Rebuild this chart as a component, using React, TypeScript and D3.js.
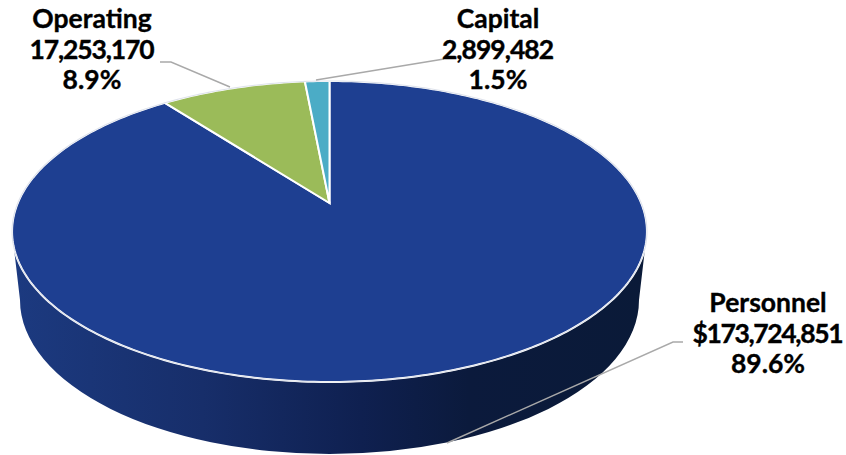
import React from "react";
import * as d3 from "d3";

const categories = ["Personnel", "Operating", "Capital"];
const amounts = [173724851, 17253170, 2899482];
const amountLabels = ["$173,724,851", "17,253,170", "2,899,482"];
const percentLabels = ["89.6%", "8.9%", "1.5%"];
const colors = ["#1e3f91", "#9bbb59", "#4bacc6"];

const W = 846, H = 455;
const cx = 329.5;
// perspective of the disc: far edge, centre and near edge on screen
const farY = 81, midY = 203, nearY = 382, midHalfWidth = 311.7;
const c = (2 * midY - farY - nearY) / (nearY - farY);
const a = nearY * (1 + c) - midY;

function project(angle: number): [number, number] {
  const u = Math.sin(angle), v = -Math.cos(angle);
  const w = 1 + c * v;
  return [cx + (midHalfWidth * u) / w, (a * v + midY) / w];
}

const pieGen = d3.pie<number>().sort(null).value((d) => d);
const arcs = pieGen(amounts);
const lineGen = d3.line<[number, number]>();

function slicePath(start: number, end: number): string {
  const pts: [number, number][] = [[cx, midY]];
  const n = Math.max(4, Math.ceil((end - start) * 60));
  d3.range(n + 1).forEach((i) => pts.push(project(start + ((end - start) * i) / n)));
  return lineGen(pts)! + "Z";
}

const rimPath = (() => {
  const n = 360;
  return lineGen(d3.range(n + 1).map((i) => project((2 * Math.PI * i) / n)))! + "Z";
})();

// side wall: near half of the top rim and near half of the base ellipse
const topCy = (farY + nearY) / 2, topRx = 317.5;
const baseCy = 300, baseRx = 309.5, baseRy = 154;
const wallPath = `M${cx - topRx},${topCy} L${cx - baseRx},${baseCy} A${baseRx},${baseRy} 0 0 0 ${cx + baseRx},${baseCy} L${cx + topRx},${topCy} Z`;

const wallStops: [number, string][] = [
  [0, "#1c3a80"],
  [0.3, "#172e6a"],
  [0.55, "#0f2050"],
  [0.72, "#0b1a3c"],
  [1, "#0a1a38"],
];

const leaders: [number, number][][] = [
  [[683, 342], [673, 342], [447, 443]],
  [[160, 62], [171, 62], [230, 87]],
  [[444, 59], [316, 80]],
];
const labelCenters: [number, number][] = [[768, 312], [92, 28], [498, 28]];
const labelWidths = [151, 125, 112];
const lineStep = 30.5;

export default function App() {
  return (
    <svg width={W} height={H} viewBox={`0 0 ${W} ${H}`} style={{ position: "absolute", left: 0, top: 0, display: "block" }}>
      <defs>
        <linearGradient id="wall" gradientUnits="userSpaceOnUse" x1={cx - topRx} x2={cx + topRx} y1={0} y2={0}>
          {wallStops.map(([o, col]) => <stop key={o} offset={o} stopColor={col} />)}
        </linearGradient>
      </defs>
      <path d={wallPath} fill="url(#wall)" />
      {arcs.map((d, i) => (
        <path key={categories[i]} d={slicePath(d.startAngle, d.endAngle)} fill={colors[i]} stroke="#fff" strokeWidth={2} strokeLinejoin="miter" />
      ))}
      <path d={rimPath} fill="none" stroke="#dfe3ec" strokeWidth={1.1} />
      {leaders.map((pts, i) => (
        <path key={i} d={lineGen(pts)!} fill="none" stroke="#a9a9a9" strokeWidth={1.4} />
      ))}
      {categories.map((name, i) => {
        const [x, y] = labelCenters[i];
        return (
          <text key={name} textAnchor="middle" fontFamily="Lato, sans-serif" fontWeight={700} fontSize={26.5} fill="#000" stroke="#000" strokeWidth={0.35}>
            <tspan x={x} y={y}>{name}</tspan>
            <tspan x={x} y={y + lineStep} textLength={labelWidths[i]} lengthAdjust="spacing">{amountLabels[i]}</tspan>
            <tspan x={x} y={y + 2 * lineStep}>{percentLabels[i]}</tspan>
          </text>
        );
      })}
    </svg>
  );
}
